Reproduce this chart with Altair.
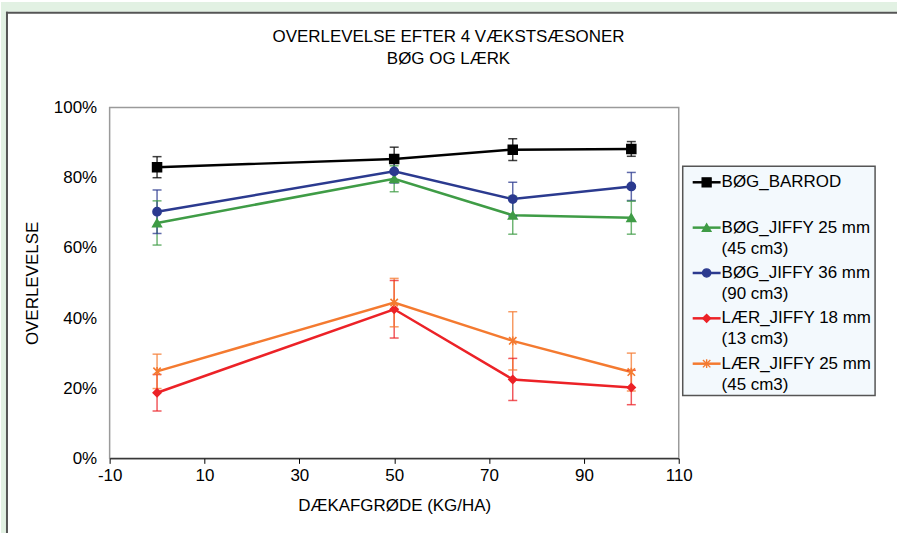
import altair as alt
import pandas as pd

# ---- data ----
x_vals = [0, 50, 75, 100]
series_names = ["BØG_BARROD", "BØG_JIFFY 25 mm (45 cm3)", "BØG_JIFFY 36 mm (90 cm3)",
                "LÆR_JIFFY 18 mm (13 cm3)", "LÆR_JIFFY 25 mm (45 cm3)"]
bog_barrod = [83.0, 85.3, 88.0, 88.2]
bog_barrod_err = [3.0, 3.4, 3.1, 2.1]
bog_j25 = [67.1, 79.7, 69.3, 68.6]
bog_j25_err = [6.3, 3.7, 5.4, 4.7]
bog_j36 = [70.3, 81.8, 73.9, 77.5]
bog_j36_err = [6.2, 3.3, 4.8, 4.0]
laer_j18 = [18.7, 42.5, 22.5, 20.2]
laer_j18_err = [5.2, 8.2, 6.0, 4.9]
laer_j25 = [24.8, 44.4, 33.5, 24.6]
laer_j25_err = [4.9, 6.9, 8.3, 5.4]

title_lines = ["OVERLEVELSE EFTER 4 VÆKSTSÆSONER", "BØG OG LÆRK"]
leg_line1 = ["BØG_BARROD", "BØG_JIFFY 25 mm", "BØG_JIFFY 36 mm", "LÆR_JIFFY 18 mm", "LÆR_JIFFY 25 mm"]
leg_line2 = ["", "(45 cm3)", "(90 cm3)", "(13 cm3)", "(45 cm3)"]

x_ticks = [-10, 10, 30, 50, 70, 90, 110]
y_ticks = [0, 20, 40, 60, 80, 100]

colors = ["#000000", "#3f9c46", "#2b3a8f", "#ec2227", "#f47a30"]
asterisk = "M-1,-1L1,1M-1,1L1,-1M0,-1.2L0,1.2"
shapes = ["square", "triangle-up", "circle", "diamond", asterisk]
sizes = [80, 55, 55, 45, 55]
leg_sizes = [36, 30, 30, 25, 30]

FONT = "Liberation Sans"
FS = 17

vals = [bog_barrod, bog_j25, bog_j36, laer_j18, laer_j25]
errs = [bog_barrod_err, bog_j25_err, bog_j36_err, laer_j18_err, laer_j25_err]
rows = []
for i, name in enumerate(series_names):
    for xv, v, e in zip(x_vals, vals[i], errs[i]):
        rows.append({"series": name, "order": i, "x": xv, "y": v, "lo": v - e, "hi": v + e})
df = pd.DataFrame(rows)

color_scale = alt.Scale(domain=series_names, range=colors)
shape_scale = alt.Scale(domain=series_names, range=shapes)
size_scale = alt.Scale(domain=series_names, range=sizes)
leg_size_scale = alt.Scale(domain=series_names, range=leg_sizes)

xs = alt.Scale(domain=[-10, 110], nice=False)
ys = alt.Scale(domain=[0, 100], nice=False)

x_axis = alt.Axis(values=x_ticks, grid=False, domainColor="black", tickColor="black", tickSize=5,
                  labelExpr="'' + datum.value", labelFlush=False,
                  labelFont=FONT, labelFontSize=FS, labelColor="black", labelPadding=4,
                  titleFont=FONT, titleFontSize=FS, titleFontWeight="normal", titleColor="black",
                  titlePadding=14)
y_axis = alt.Axis(values=y_ticks, grid=False, domain=False, ticks=False,
                  labelExpr="datum.value + '%'", labelFlush=False,
                  labelFont=FONT, labelFontSize=FS, labelColor="black", labelPadding=13,
                  titleFont=FONT, titleFontSize=FS, titleFontWeight="normal", titleColor="black",
                  titlePadding=12)

base = alt.Chart(df)
X = alt.X("x:Q", scale=xs, axis=x_axis, title="DÆKAFGRØDE (KG/HA)")
Y = alt.Y("y:Q", scale=ys, axis=y_axis, title="OVERLEVELSE")
C = alt.Color("series:N", scale=color_scale, legend=None)

err_rule = base.mark_rule(strokeWidth=1.5, opacity=0.75).encode(
    x=alt.X("x:Q", scale=xs), y=alt.Y("lo:Q", scale=ys), y2="hi:Q", color=C)
cap_lo = base.mark_tick(orient="horizontal", size=9, thickness=1.5, opacity=0.75).encode(
    x=alt.X("x:Q", scale=xs), y=alt.Y("lo:Q", scale=ys), color=C)
cap_hi = base.mark_tick(orient="horizontal", size=9, thickness=1.5, opacity=0.75).encode(
    x=alt.X("x:Q", scale=xs), y=alt.Y("hi:Q", scale=ys), color=C)
lines = base.mark_line(strokeWidth=2.5).encode(
    x=X, y=Y, color=C, detail="series:N", order="x:Q")
points = base.mark_point(filled=True, strokeWidth=1.6, opacity=1).encode(
    x=alt.X("x:Q", scale=xs), y=alt.Y("y:Q", scale=ys), color=C,
    stroke=alt.Stroke("series:N", scale=color_scale, legend=None),
    shape=alt.Shape("series:N", scale=shape_scale, legend=None),
    size=alt.Size("series:N", scale=size_scale, legend=None))

# page decoration: green frame strips, dark border of the white panel, chart title
deco = pd.DataFrame({"k": [0]})
top_strip = alt.Chart(deco).mark_rect(color="#e2f1e3").encode(
    x=alt.value(-109), x2=alt.value(790), y=alt.value(-106), y2=alt.value(-96))
left_strip = alt.Chart(deco).mark_rect(color="#e2f1e3").encode(
    x=alt.value(-109), x2=alt.value(-104), y=alt.value(-106), y2=alt.value(427))
top_border = alt.Chart(deco).mark_rule(color="#555555", strokeWidth=2).encode(
    x=alt.value(-104), x2=alt.value(790), y=alt.value(-95))
left_border = alt.Chart(deco).mark_rule(color="#555555", strokeWidth=2).encode(
    x=alt.value(-103), y=alt.value(-96), y2=alt.value(427))
title1 = alt.Chart(deco).mark_text(font=FONT, fontSize=FS, color="black", align="center",
                                   baseline="middle", text=title_lines[0]).encode(
    x=alt.value(340), y=alt.value(-71))
title2 = alt.Chart(deco).mark_text(font=FONT, fontSize=FS, color="black", align="center",
                                   baseline="middle", text=title_lines[1]).encode(
    x=alt.value(340), y=alt.value(-49))

main = alt.layer(lines, err_rule, cap_lo, cap_hi, points,
                 top_strip, left_strip, top_border, left_border, title1, title2).properties(
    width=571, height=352,
    view=alt.ViewBackground(stroke="#9a9a9a", strokeWidth=1.5))

# ---- manual legend panel (legend layout units = px inside the panel) ----
leg_rows = []
for i, name in enumerate(series_names):
    yy = 75 + 45.5 * i
    leg_rows.append({"series": name, "l1": leg_line1[i], "l2": leg_line2[i],
                     "y1": yy, "y2": yy + 21, "lx0": 10, "lx1": 38, "mx": 24, "tx": 39})
ldf = pd.DataFrame(leg_rows)
lxs = alt.Scale(domain=[0, 194], nice=False)
lys = alt.Scale(domain=[0, 352], nice=False, reverse=True)

box = alt.Chart(pd.DataFrame({"x0": [0], "x1": [193], "y0": [59], "y1": [289]})).mark_rect(
    fill="#f3f9fd", stroke="#555555", strokeWidth=1.5).encode(
    x=alt.X("x0:Q", scale=lxs, axis=None), x2="x1:Q",
    y=alt.Y("y0:Q", scale=lys, axis=None), y2="y1:Q")
lb = alt.Chart(ldf)
leg_lines = lb.mark_rule(strokeWidth=2.5).encode(
    x=alt.X("lx0:Q", scale=lxs, axis=None), x2="lx1:Q",
    y=alt.Y("y1:Q", scale=lys, axis=None), color=C)
leg_pts = lb.mark_point(filled=True, strokeWidth=1.4, opacity=1).encode(
    x=alt.X("mx:Q", scale=lxs, axis=None), y=alt.Y("y1:Q", scale=lys, axis=None), color=C,
    stroke=alt.Stroke("series:N", scale=color_scale, legend=None),
    shape=alt.Shape("series:N", scale=shape_scale, legend=None),
    size=alt.Size("series:N", scale=leg_size_scale, legend=None))
leg_t1 = lb.mark_text(align="left", baseline="middle", font=FONT, fontSize=FS, color="black").encode(
    x=alt.X("tx:Q", scale=lxs, axis=None), y=alt.Y("y1:Q", scale=lys, axis=None), text="l1:N")
leg_t2 = lb.mark_text(align="left", baseline="middle", font=FONT, fontSize=FS, color="black").encode(
    x=alt.X("tx:Q", scale=lxs, axis=None), y=alt.Y("y2:Q", scale=lys, axis=None), text="l2:N")

legend = alt.layer(box, leg_lines, leg_pts, leg_t1, leg_t2).properties(
    width=194, height=352, view=alt.ViewBackground(stroke=None))

chart = alt.hconcat(main, legend, spacing=4, bounds="flush").properties(
    padding=0, background="white"
).configure_view(stroke=None)

chart.save("out.html", embed_options={"renderer": "svg", "actions": False})
